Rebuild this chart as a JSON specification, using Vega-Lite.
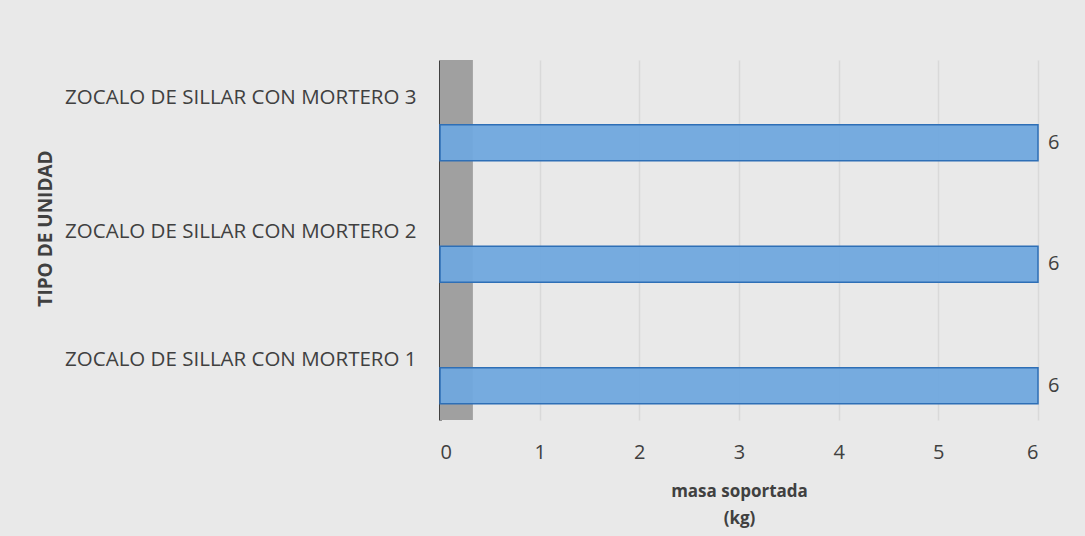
{
  "$schema": "https://vega.github.io/schema/vega-lite/v6.json",
  "autosize": "none",
  "width": 598,
  "height": 360,
  "padding": {"left": 440, "top": 60, "right": 47, "bottom": 116},
  "background": "#e9e9e9",
  "config": {
    "view": {"stroke": null},
    "font": "Open Sans",
    "axis": {"labelFont": "Open Sans", "titleFont": "Open Sans", "labelColor": "#404040", "titleColor": "#404040"}
  },
  "datasets": {
    "bars": [
      {"tipo": "ZOCALO DE SILLAR CON MORTERO 3", "masa": 6},
      {"tipo": "ZOCALO DE SILLAR CON MORTERO 2", "masa": 6},
      {"tipo": "ZOCALO DE SILLAR CON MORTERO 1", "masa": 6}
    ],
    "wall": [{"x0": 0, "x1": 0.33}]
  },
  "layer": [
    {
      "data": {"name": "wall"},
      "mark": {"type": "rect", "fill": "#a0a0a0"},
      "encoding": {
        "x": {"field": "x0", "type": "quantitative", "scale": {"domain": [0, 6]}},
        "x2": {"field": "x1"}
      }
    },
    {
      "data": {"name": "bars"},
      "mark": {"type": "bar", "fill": "#70a8de", "stroke": "#2e6fb6", "strokeWidth": 1.5, "fillOpacity": 0.95},
      "encoding": {
        "y": {
          "field": "tipo", "type": "nominal", "sort": null,
          "scale": {"paddingInner": 0.704, "paddingOuter": 0.333, "align": 0.8},
          "axis": {
            "title": "TIPO DE UNIDAD", "titleFontWeight": "bold", "titleFontSize": 19,
            "titleAngle": -90, "titleX": -395, "titleY": 168, "titleAlign": "center", "titleBaseline": "middle",
            "labelFontSize": 20.5, "labelPadding": 24, "labelLimit": 0, "ticks": false,
            "labelOffset": {"condition": [
              {"test": "datum.value === 'ZOCALO DE SILLAR CON MORTERO 3'", "value": -45},
              {"test": "datum.value === 'ZOCALO DE SILLAR CON MORTERO 2'", "value": -32}
            ], "value": -26},
            "domain": true, "domainColor": "#404040", "domainWidth": 3
          }
        },
        "x": {
          "field": "masa", "type": "quantitative",
          "scale": {"domain": [0, 6], "nice": false},
          "axis": {
            "title": ["masa soportada", "(kg)"], "titleFontWeight": "bold", "titleFontSize": 17, "titlePadding": 21, "titleLineHeight": 27,
            "values": [0, 1, 2, 3, 4, 5, 6], "format": "d", "labelFontSize": 20, "labelPadding": 22, "ticks": false, "domain": false,
            "grid": true, "gridColor": "#d9d9d9", "gridWidth": 1.5
          }
        }
      }
    },
    {
      "data": {"name": "bars"},
      "mark": {"type": "text", "align": "left", "dx": 10, "fontSize": 20, "color": "#404040", "font": "Open Sans"},
      "encoding": {
        "y": {"field": "tipo", "type": "nominal", "sort": null},
        "x": {"field": "masa", "type": "quantitative"},
        "text": {"field": "masa", "type": "quantitative"}
      }
    }
  ]
}
